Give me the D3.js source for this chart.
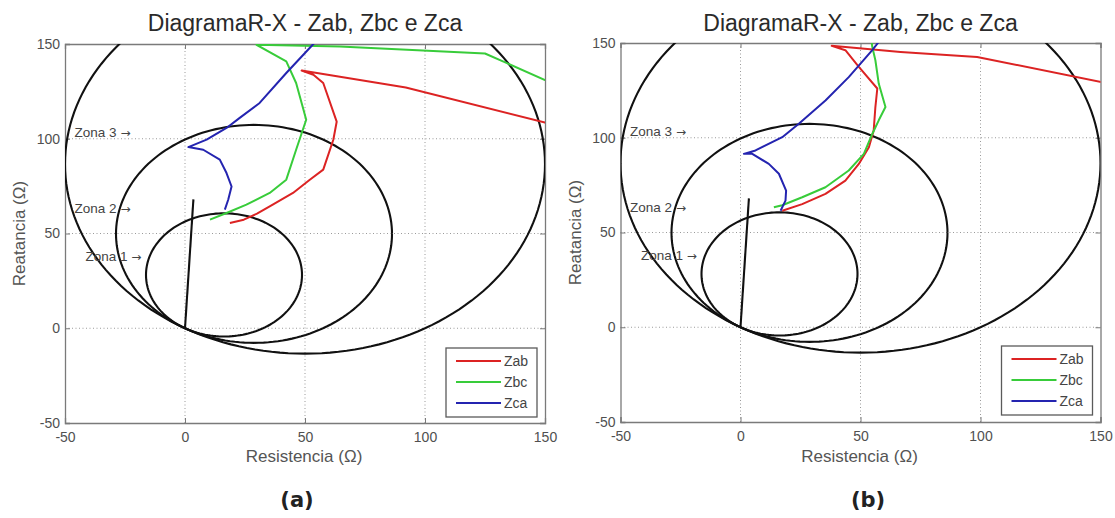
<!DOCTYPE html>
<html>
<head>
<meta charset="utf-8">
<script src="https://cdn.jsdelivr.net/npm/d3@7/dist/d3.min.js"></script>
<style>
  html, body { margin: 0; padding: 0; background: #fff; }
  svg { display: block; font-family: "Liberation Sans", Arial, sans-serif; }
</style>
</head>
<body>
<svg id="chart" width="1115" height="518"></svg>
<script>
// ---------------- DATA ----------------
const xTicks = [-50, 0, 50, 100, 150];
const yTicks = [-50, 0, 50, 100, 150];
const seriesNames = ["Zab", "Zbc", "Zca"];
const panelTags = ["(a)", "(b)"];
const titleText = "DiagramaR-X - Zab, Zbc e Zca";
const xLabel = "Resistencia (Ω)";
const yLabel = "Reatancia (Ω)";

// Mho zones: diameter (reach, Ω) along characteristic angle (deg)
const zoneReach = [65, 115, 200];
const zoneAngle = 60;
const zoneLabels = ["Zona 1", "Zona 2", "Zona 3"];
const zoneArrow = "→";
const zoneLabelR = [-41.5, -46, -46];
const zoneLabelX = [38, 63.5, 103.5];

// Line impedance segment
const lineR = [0, 3.5];
const lineX = [0, 68];

// Panel (a) trajectories [R, X]
const zabA = [[18.7,55.5],[24.5,57.3],[30,60.5],[35.3,64.3],[45,71.4],[52,78.4],[57.6,83.7],[61.8,99.5],[63.2,109],[57.6,129.4],[53.5,133.8],[48.6,136],[92,127],[150,108.5],[160,105]];
const zbcA = [[10.4,57.3],[17.3,60.8],[25.6,65.2],[35.3,71.4],[42.2,78.4],[46.3,94.2],[50.5,110],[49,117],[46.3,129.4],[42.2,140.8],[29.8,149.6],[64.5,148.7],[125,145],[150,131],[156,128]];
const zcaA = [[16.6,62.6],[18,67.8],[19.4,74.8],[17.3,81.9],[14.5,89],[7.6,94.2],[1.4,95.6],[9,99.5],[17.3,105.7],[22.8,111],[31.1,118.9],[42.2,134.7],[53.2,149.6],[55,152]];

// Panel (b) trajectories [R, X]
const zabB = [[17.4,61.5],[25.7,65],[35.4,70.4],[43.7,77.4],[49.3,86.2],[53.5,95],[55.5,103.9],[56.2,116.2],[57,126],[49.3,137.4],[43.7,146.2],[38,148.5],[66.7,145.3],[98.6,142.6],[152,129]];
const zbcB = [[13.9,63.3],[17.4,64.4],[25.7,68.6],[35.4,73.9],[45.1,82.7],[51.4,91.5],[54.9,102],[57.6,109.2],[60.4,116.2],[57.6,128.6],[56.2,140.9],[54.9,148],[54.5,152]];
const zcaB = [[16.7,61.5],[18.75,66.8],[19,72.1],[16,81],[11.8,86.2],[4.9,91.5],[1.4,91.5],[6.25,93.3],[17.4,100.3],[24.3,107.4],[35.4,119.7],[45.1,132],[54.9,146.2],[57.6,150.6]];

// ---------------- STYLE / LAYOUT ----------------
const seriesColors = ["#dc2323", "#38cc3a", "#2424b0"];
const panels = [
  { left: 65, right: 545, top: 44, bottom: 423, tagX: 297, legendTop: 348, series: [zabA, zbcA, zcaA] },
  { left: 620.5, right: 1100.5, top: 43, bottom: 422, tagX: 868, legendTop: 346, series: [zabB, zbcB, zcaB] }
];

const svg = d3.select("#chart");

panels.forEach((p, pi) => {
  const x = d3.scaleLinear().domain([-50, 150]).range([p.left, p.right]);
  const y = d3.scaleLinear().domain([-50, 150]).range([p.bottom, p.top]);
  const g = svg.append("g");
  const clipId = "clip" + pi;
  g.append("clipPath").attr("id", clipId)
    .append("rect").attr("x", p.left).attr("y", p.top)
    .attr("width", p.right - p.left).attr("height", p.bottom - p.top);

  // grid
  const grid = g.append("g").attr("stroke", "#9a9a9a").attr("stroke-width", 1).attr("stroke-dasharray", "1,2.5");
  xTicks.slice(1, -1).forEach(t => grid.append("line")
    .attr("x1", x(t)).attr("x2", x(t)).attr("y1", p.top).attr("y2", p.bottom));
  yTicks.slice(1, -1).forEach(t => grid.append("line")
    .attr("y1", y(t)).attr("y2", y(t)).attr("x1", p.left).attr("x2", p.right));

  // axes (inward ticks, MATLAB style)
  const tickFmt = d => String(d);
  const axB = g.append("g").attr("transform", `translate(0,${p.bottom})`)
    .call(d3.axisBottom(x).tickValues(xTicks).tickSize(-5).tickPadding(9).tickFormat(tickFmt));
  const axL = g.append("g").attr("transform", `translate(${p.left},0)`)
    .call(d3.axisLeft(y).tickValues(yTicks).tickSize(-5).tickPadding(5).tickFormat(tickFmt));
  const axT = g.append("g").attr("transform", `translate(0,${p.top})`)
    .call(d3.axisTop(x).tickValues(xTicks).tickSize(-5).tickFormat(""));
  const axR = g.append("g").attr("transform", `translate(${p.right},0)`)
    .call(d3.axisRight(y).tickValues(yTicks).tickSize(-5).tickFormat(""));
  [axB, axL, axT, axR].forEach(a => {
    a.select(".domain").attr("stroke", "#7a7a7a").attr("stroke-width", 1.3);
    a.selectAll(".tick line").attr("stroke", "#7a7a7a");
    a.selectAll("text").attr("fill", "#505050").attr("font-size", 14)
      .attr("font-family", "Liberation Sans, Arial, sans-serif");
  });

  const plot = g.append("g").attr("clip-path", `url(#${clipId})`);
  const lineGen = d3.line().x(d => x(d[0])).y(d => y(d[1]));

  // mho circles
  const a = zoneAngle * Math.PI / 180;
  zoneReach.forEach(D => {
    const r = D / 2, cx = r * Math.cos(a), cy = r * Math.sin(a);
    const pts = d3.range(0, 361, 2).map(k => {
      const t = k * Math.PI / 180;
      return [cx + r * Math.cos(t), cy + r * Math.sin(t)];
    });
    plot.append("path").attr("d", lineGen(pts)).attr("fill", "none")
      .attr("stroke", "#111").attr("stroke-width", 2.1);
  });
  // line impedance
  plot.append("path").attr("d", lineGen(d3.zip(lineR, lineX))).attr("fill", "none")
    .attr("stroke", "#111").attr("stroke-width", 2.1);

  // trajectories
  p.series.forEach((s, i) => {
    plot.append("path").attr("d", lineGen(s)).attr("fill", "none")
      .attr("stroke", seriesColors[i]).attr("stroke-width", 2)
      .attr("stroke-linejoin", "round");
  });

  // zone labels
  zoneLabels.forEach((t, i) => {
    const tx = g.append("text").attr("x", x(zoneLabelR[i])).attr("y", y(zoneLabelX[i]))
      .attr("dy", "0.35em").attr("font-size", 13.5).attr("fill", "#444");
    tx.append("tspan").text(t + " ");
    tx.append("tspan").attr("font-family", "DejaVu Sans, sans-serif").attr("font-size", 12).text(zoneArrow);
  });

  // legend
  const lg = g.append("g");
  const lx = p.right - 99, lw = 91;
  lg.append("rect").attr("x", lx).attr("y", p.legendTop).attr("width", lw).attr("height", 69)
    .attr("fill", "#fff").attr("stroke", "#5a5a5a").attr("stroke-width", 1.3);
  seriesNames.forEach((n, i) => {
    const ly = p.legendTop + 13 + i * 21;
    lg.append("line").attr("x1", lx + 10).attr("x2", lx + 55).attr("y1", ly).attr("y2", ly)
      .attr("stroke", seriesColors[i]).attr("stroke-width", 2);
    lg.append("text").attr("x", lx + 58).attr("y", ly).attr("dy", "0.36em")
      .attr("font-size", 14).attr("fill", "#444").text(n);
  });

  // title and labels
  const cxp = (p.left + p.right) / 2;
  g.append("text").attr("x", cxp).attr("y", 31).attr("text-anchor", "middle")
    .attr("font-size", 23).attr("fill", "#2a2a2a").text(titleText);
  g.append("text").attr("x", cxp - 1).attr("y", 462).attr("text-anchor", "middle")
    .attr("font-size", 17).attr("fill", "#555").text(xLabel);
  g.append("text").attr("transform", `translate(${p.left - 40},${(p.top + p.bottom) / 2}) rotate(-90)`)
    .attr("text-anchor", "middle").attr("font-size", 17).attr("fill", "#555").text(yLabel);
  g.append("text").attr("x", p.tagX).attr("y", 507).attr("text-anchor", "middle")
    .attr("font-size", 21).attr("font-weight", "bold").attr("fill", "#222")
    .attr("font-family", "DejaVu Sans, sans-serif").text(panelTags[pi]);
});
</script>
</body>
</html>
